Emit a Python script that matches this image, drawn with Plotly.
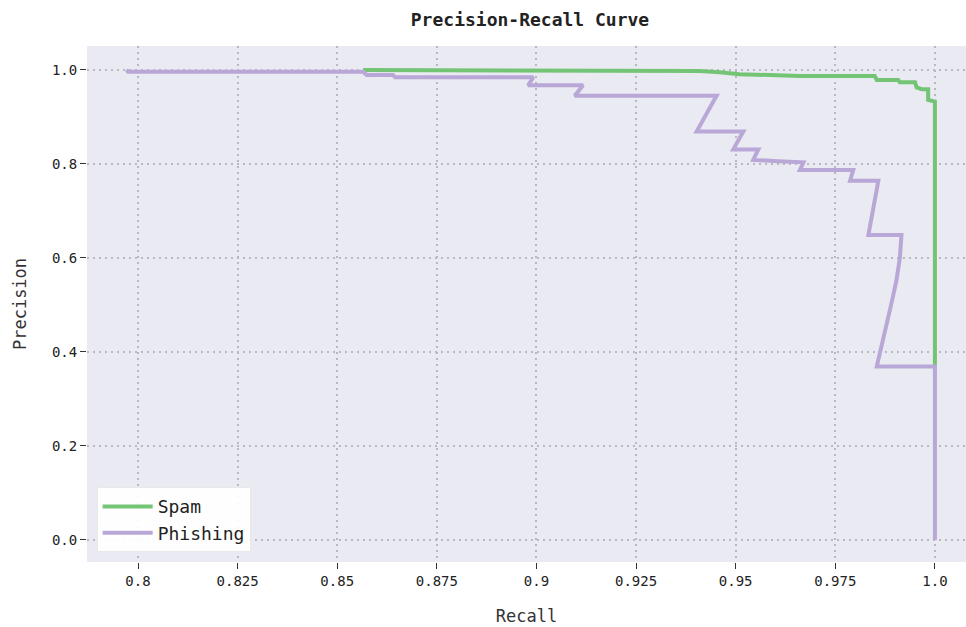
import plotly.graph_objects as go

# Spam PR curve (recall, precision)
spam_recall = [0.8565, 0.9151, 0.9410, 0.9460, 0.9510, 0.9661, 0.9849, 0.9854,
               0.9908, 0.9912, 0.9950, 0.9954, 0.9967, 0.9983, 0.9983, 1.0, 1.0]
spam_precision = [1.0, 0.9979, 0.9979, 0.995, 0.991, 0.9872, 0.9872, 0.9787,
                  0.9787, 0.9738, 0.9738, 0.963, 0.959, 0.959, 0.936, 0.9326, 0.36]

# Phishing PR curve (recall, precision)
phish_recall = [0.7971, 0.7975, 0.8565, 0.8574, 0.8640, 0.8645, 0.8992, 0.8979,
                0.9117, 0.9096, 0.9452, 0.9402, 0.9519, 0.9494, 0.9557, 0.9544,
                0.9607, 0.9670, 0.9661, 0.9795, 0.9787, 0.9858, 0.9833, 0.9916,
                0.9912, 0.9903, 0.9890, 0.9873, 0.9854, 1.0, 1.0]
phish_precision = [1.0, 0.9964, 0.9964, 0.9894, 0.9894, 0.9844, 0.9844, 0.9675,
                   0.9675, 0.945, 0.945, 0.869, 0.869, 0.831, 0.831, 0.8085,
                   0.806, 0.8035, 0.787, 0.787, 0.764, 0.764, 0.649, 0.649,
                   0.60, 0.55, 0.50, 0.44, 0.369, 0.369, 0.0]

x_ticks = [0.8, 0.825, 0.85, 0.875, 0.9, 0.925, 0.95, 0.975, 1.0]
x_tick_labels = ["0.8", "0.825", "0.85", "0.875", "0.9", "0.925", "0.95", "0.975", "1.0"]
y_ticks = [0.0, 0.2, 0.4, 0.6, 0.8, 1.0]
y_tick_labels = ["0.0", "0.2", "0.4", "0.6", "0.8", "1.0"]

MONO = "DejaVu Sans Mono"
fig = go.Figure()
fig.add_trace(go.Scatter(x=spam_recall, y=spam_precision, mode="lines", name="Spam",
                         line=dict(color="#74c476", width=4)))
fig.add_trace(go.Scatter(x=phish_recall, y=phish_precision, mode="lines", name="Phishing",
                         line=dict(color="#b9a7d7", width=4)))

axis_common = dict(
    showgrid=True, gridcolor="#b8b8c0", griddash="2px,4px", gridwidth=1.6,
    zeroline=False, showline=False,
    ticks="outside", ticklen=6, tickwidth=1.4, tickcolor="#333",
    tickfont=dict(family=MONO, size=14, color="#222"),
)

fig.update_layout(
    width=966, height=627,
    margin=dict(l=87, r=0, t=46, b=65),
    paper_bgcolor="white", plot_bgcolor="#eaeaf2",
    title=dict(text="<b>Precision-Recall Curve</b>", x=530 / 966, xref="container",
               xanchor="center", y=1 - 20 / 627, yanchor="middle",
               font=dict(family=MONO, size=18, color="#222")),
    xaxis=dict(range=[0.7872, 1.0078], tickvals=x_ticks, ticktext=x_tick_labels,
               title=dict(text="Recall", font=dict(family=MONO, size=17, color="#333"), standoff=22),
               **axis_common),
    yaxis=dict(range=[-0.047, 1.051], tickvals=y_ticks, ticktext=y_tick_labels,
               title=dict(text="Precision", font=dict(family=MONO, size=17, color="#333"), standoff=20),
               **axis_common),
    legend=dict(x=0.011, y=0.019, xanchor="left", yanchor="bottom",
                bgcolor="rgba(255,255,255,0.92)", bordercolor="#e8e8e8", borderwidth=1,
                font=dict(family=MONO, size=18, color="#222"), itemwidth=50),
    showlegend=True,
)

fig.write_html("out.html")
